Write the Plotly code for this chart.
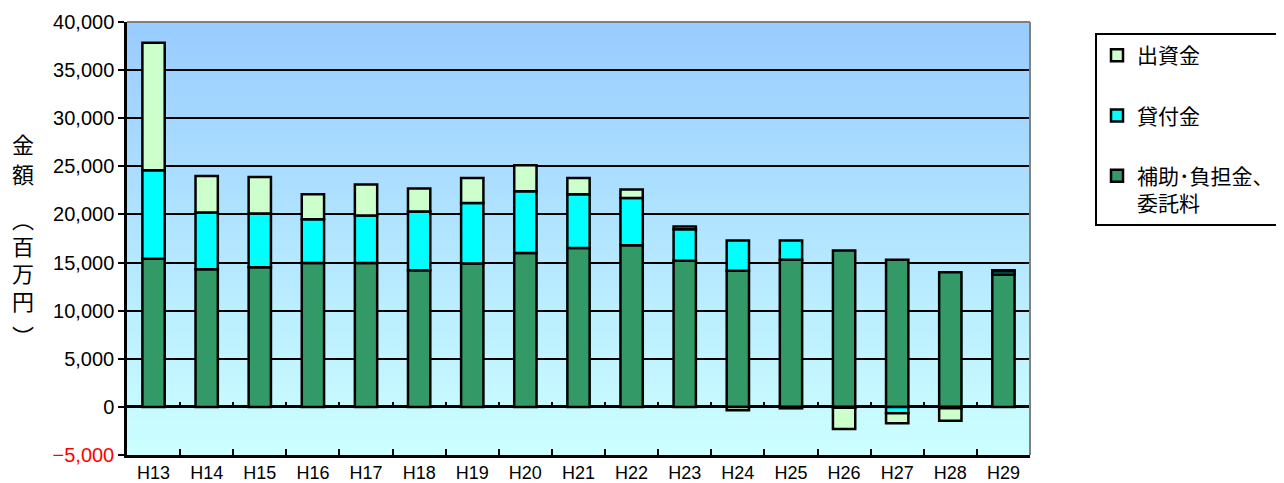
import plotly.graph_objects as go

categories = ["H13", "H14", "H15", "H16", "H17", "H18", "H19", "H20", "H21",
              "H22", "H23", "H24", "H25", "H26", "H27", "H28", "H29"]
# 補助・負担金、委託料
subsidy = [15400, 14300, 14500, 14950, 14950, 14200, 14900, 16000, 16500,
           16800, 15200, 14150, 15300, 16250, 15300, 14000, 13750]
# 貸付金
loans = [9200, 5900, 5600, 4550, 4950, 6100, 6300, 6400, 5600,
         4900, 3250, 3150, 2000, -100, -650, -150, 350]
# 出資金
investment = [13250, 3800, 3800, 2600, 3200, 2400, 2600, 2700, 1700,
              900, 300, -350, -150, -2200, -1050, -1300, 100]

series_names = ["補助･負担金、<br>委託料", "貸付金", "出資金"]
series_colors = ["#339966", "#00FFFF", "#CCFFCC"]
legend_ranks = [3, 2, 1]

ytick_vals = [-5000, 0, 5000, 10000, 15000, 20000, 25000, 30000, 35000, 40000]
ytick_text = ["<span style='color:#FF0000'>−5,000</span>", "0", "5,000", "10,000",
              "15,000", "20,000", "25,000", "30,000", "35,000", "40,000"]
ytitle_chars = ["金", "額", "︵", "百", "万", "円", "︶"]
ytitle_pix_y = [143, 173, 218, 245, 272, 300, 335]

FONT = "Noto Sans CJK JP"
OFF = 8  # page body margin
W, H = 1284 - OFF, 483 - OFF
L, T = 127 - OFF, 22 - OFF
R = W - (1030 - OFF)
B = H - (455 - OFF)
PW, PH = W - L - R, H - T - B


def px_x(px):
    return (px - OFF - L) / PW


def px_y(py):
    return (H - B - (py - OFF)) / PH


fig = go.Figure()
for name, vals, col, rk in zip(series_names, [subsidy, loans, investment],
                               series_colors, legend_ranks):
    fig.add_trace(go.Bar(
        x=categories, y=vals, name=name, legendgroup=name, legendrank=rk,
        marker=dict(color=col, line=dict(color="#000000", width=2.5)),
        width=0.42,
    ))

# invisible helper trace on a second x axis, to draw tick marks along the zero line
fig.add_trace(go.Scatter(x=categories, y=[0] * len(categories), xaxis="x2", yaxis="y",
                         mode="markers", marker=dict(opacity=0), showlegend=False,
                         hoverinfo="skip"))

# gradient background
n = 60
top = (153, 204, 255)
bot = (204, 255, 255)
shapes = []
for i in range(n):
    t = i / (n - 1)
    c = tuple(round(bot[k] + (top[k] - bot[k]) * t) for k in range(3))
    shapes.append(dict(type="rect", xref="paper", yref="paper",
                       x0=0, x1=1, y0=i / n, y1=(i + 1) / n + 0.002,
                       fillcolor="rgb(%d,%d,%d)" % c, line=dict(width=0), layer="below"))
shapes.append(dict(type="line", xref="paper", yref="paper", x0=0, x1=1, y0=1, y1=1,
                   line=dict(color="#808080", width=2), layer="above"))
shapes.append(dict(type="line", xref="paper", yref="paper", x0=1, x1=1, y0=0, y1=1,
                   line=dict(color="#808080", width=2), layer="above"))

annotations = []
for ch, py in zip(ytitle_chars, ytitle_pix_y):
    annotations.append(dict(
        text=ch, xref="paper", yref="paper",
        x=px_x(23), y=px_y(py), xanchor="center", yanchor="middle",
        showarrow=False, font=dict(family=FONT, size=22, color="#000000"),
    ))

ymin, ymax = -5000, 40000
xrange_ = [-0.5, len(categories) - 0.5]

fig.update_layout(
    width=W, height=H,
    margin=dict(l=L, r=R, t=T, b=B, autoexpand=False),
    barmode="relative",
    paper_bgcolor="#FFFFFF",
    plot_bgcolor="rgba(0,0,0,0)",
    font=dict(family=FONT, color="#000000", size=16),
    shapes=shapes,
    showlegend=True,
    legend=dict(
        x=px_x(1095), y=px_y(33), xanchor="left", yanchor="top",
        bgcolor="#FFFFFF", bordercolor="#000000", borderwidth=2,
        font=dict(family=FONT, size=21, color="#000000"),
        traceorder="grouped", tracegroupgap=30, valign="top",
        itemwidth=30,
    ),
    xaxis=dict(
        type="category", range=xrange_, showline=True, linecolor="#000000", linewidth=2.5,
        ticks="inside", ticklen=6, tickwidth=2, tickcolor="#000000",
        tickson="boundaries", showgrid=False, automargin=False,
        tickfont=dict(family="Liberation Sans", size=18),
    ),
    xaxis2=dict(
        type="category", range=xrange_, overlaying="x", anchor="free",
        position=(0 - ymin) / (ymax - ymin), side="bottom",
        showline=False, ticks="inside", ticklen=5, tickwidth=2, tickcolor="#000000",
        tickson="boundaries", showticklabels=False, showgrid=False, automargin=False,
    ),
    yaxis=dict(
        range=[ymin, ymax], tickvals=ytick_vals, ticktext=ytick_text,
        showline=True, linecolor="#000000", linewidth=2.5,
        ticks="outside", ticklen=6, tickwidth=2, tickcolor="#000000",
        showgrid=True, gridcolor="#000000", gridwidth=2,
        zeroline=True, zerolinecolor="#000000", zerolinewidth=2.5,
        automargin=False,
        tickfont=dict(family="Liberation Sans", size=20),
    ),
    annotations=annotations,
)

fig.write_html("out.html")
